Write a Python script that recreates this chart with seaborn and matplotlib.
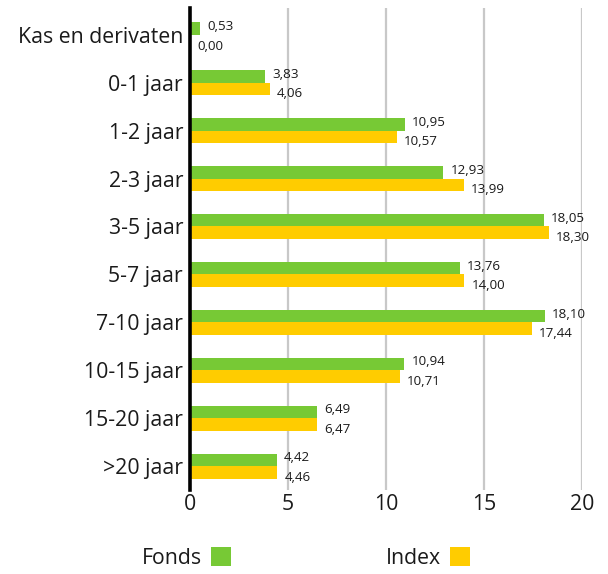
import pandas as pd
import numpy as np
import seaborn as sns
import matplotlib.pyplot as plt

categories = ['Kas en derivaten', '0-1 jaar', '1-2 jaar', '2-3 jaar', '3-5 jaar',
              '5-7 jaar', '7-10 jaar', '10-15 jaar', '15-20 jaar', '>20 jaar']
fonds = [0.53, 3.83, 10.95, 12.93, 18.05, 13.76, 18.10, 10.94, 6.49, 4.42]
index = [0.00, 4.06, 10.57, 13.99, 18.30, 14.00, 17.44, 10.71, 6.47, 4.46]
series = ['Fonds', 'Index']
colors = ['#77C935', '#FFCC00']

df = pd.DataFrame({
    'cat': categories * 2,
    'val': fonds + index,
    'serie': ['Fonds'] * len(fonds) + ['Index'] * len(index),
})

sns.set_style('white')
plt.rcParams['font.family'] = ['Open Sans', 'DejaVu Sans']

fig = plt.figure(figsize=(6.08, 5.74), dpi=100)
ax = fig.add_axes([190 / 608, 1 - 490 / 574, 392 / 608, 482 / 574])

sns.barplot(data=df, y='cat', x='val', hue='serie', hue_order=series,
            palette=colors, width=0.52, orient='h', ax=ax, saturation=1,
            linewidth=0, legend=True)

ax.set_xlim(0, 20)
ax.set_ylim(9.5, -0.56)
ax.set_xticks([0, 5, 10, 15, 20])
ax.set_xticklabels(['0', '5', '10', '15', '20'])
ax.set_xlabel('')
ax.set_ylabel('')
ax.tick_params(axis='both', length=0, labelsize=15.3, colors='#1a1a1a')
ax.tick_params(axis='y', pad=5)
ax.tick_params(axis='x', pad=3)

for x in [5, 10, 15, 20]:
    ax.axvline(x, color='#c8c8c8', lw=1.6, zorder=0)

for s in ['top', 'right', 'bottom']:
    ax.spines[s].set_visible(False)
ax.spines['left'].set_color('black')
ax.spines['left'].set_linewidth(2.6)
ax.spines['left'].set_zorder(5)

offsets = [-2, 5]
for cont, vals, dy in zip(ax.containers, [fonds, index], offsets):
    for bar, v in zip(cont, vals):
        y = bar.get_y() + bar.get_height() / 2
        ax.annotate(f'{v:.2f}'.replace('.', ','), (bar.get_width(), y),
                    xytext=(7, -dy), textcoords='offset pixels',
                    ha='left', va='center', fontsize=9.6, color='#1a1a1a')

leg = ax.legend(loc='center', bbox_to_anchor=(306 / 608, 1 - 558 / 574),
                bbox_transform=fig.transFigure, ncol=2, frameon=False,
                markerfirst=False, fontsize=15.3, handlelength=0.95,
                handleheight=0.95, columnspacing=7.3, handletextpad=0.4)
for t in leg.get_texts():
    t.set_color('#1a1a1a')

fig.savefig('out.png', dpi=100)
